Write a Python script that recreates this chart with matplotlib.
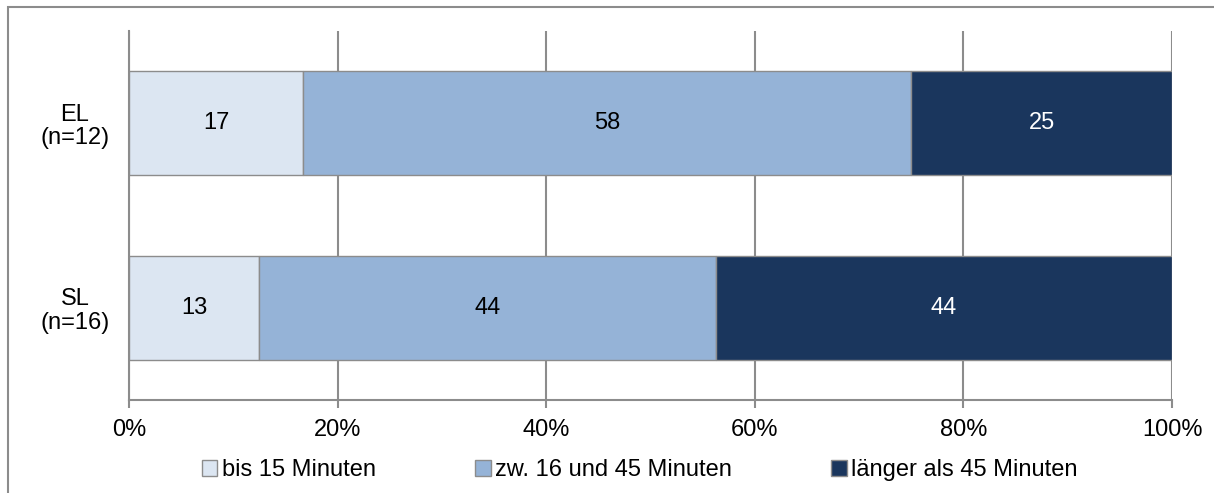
import matplotlib
matplotlib.use("Agg")
import matplotlib.pyplot as plt
from matplotlib.patches import Rectangle
import numpy as np

plt.rcParams['font.family'] = ['Liberation Sans', 'DejaVu Sans']

# data (percent)
groups = ['EL\n(n=12)', 'SL\n(n=16)']
series = ['bis 15 Minuten', 'zw. 16 und 45 Minuten', 'länger als 45 Minuten']
bis15 = [16.7, 12.5]
zw16_45 = [58.3, 43.75]
laenger45 = [25.0, 43.75]
colors = ['#DCE6F2', '#95B3D7', '#1A365D']
text_colors = ['black', 'black', 'white']

fs = 17
fig = plt.figure(figsize=(12.14, 4.93), dpi=100)
ax = fig.add_axes([129/1214, 1 - 400/493, (1172-129)/1214, (400-31)/493])

y = np.arange(len(groups))
left = np.zeros(len(groups))
for vals, col, tc, name in zip([bis15, zw16_45, laenger45], colors, text_colors, series):
    bars = ax.barh(y, vals, left=left, height=0.565, color=col,
                   edgecolor='#8c8c8c', linewidth=1.0, label=name, zorder=3)
    ax.bar_label(bars, labels=['%d' % int(v + 0.5) for v in vals], label_type='center',
                 color=tc, fontsize=fs)
    left = left + np.array(vals)

ax.set_xlim(0, 100)
ax.set_ylim(1.5, -0.5)
ax.set_xticks(np.arange(0, 101, 20))
ax.set_xticklabels(['%d%%' % v for v in range(0, 101, 20)], fontsize=fs)
ax.set_yticks(y)
ax.set_yticklabels(groups, fontsize=fs, linespacing=1.1, multialignment='center')
ax.tick_params(axis='y', length=0, pad=14)
ax.tick_params(axis='x', length=6, width=1.5, color='#8c8c8c', pad=8)
ax.grid(axis='x', color='#8c8c8c', linewidth=1.5, zorder=0)
for s in ['top', 'right']:
    ax.spines[s].set_visible(False)
for s in ['left', 'bottom']:
    ax.spines[s].set_color('#8c8c8c')
    ax.spines[s].set_linewidth(1.5)

leg = fig.legend(loc='center', bbox_to_anchor=(640/1214, 1 - 470/493), ncol=3,
                 frameon=False, fontsize=fs, handlelength=0.65, handleheight=0.65,
                 handletextpad=0.2, columnspacing=4.2)

# outer chart border
fig.patches.append(Rectangle((8/1214, -0.1), 1.2, 1 - 7/493 + 0.1, transform=fig.transFigure,
                             fill=False, edgecolor='#8c8c8c', linewidth=1.5))

fig.savefig('out.png', dpi=100)
